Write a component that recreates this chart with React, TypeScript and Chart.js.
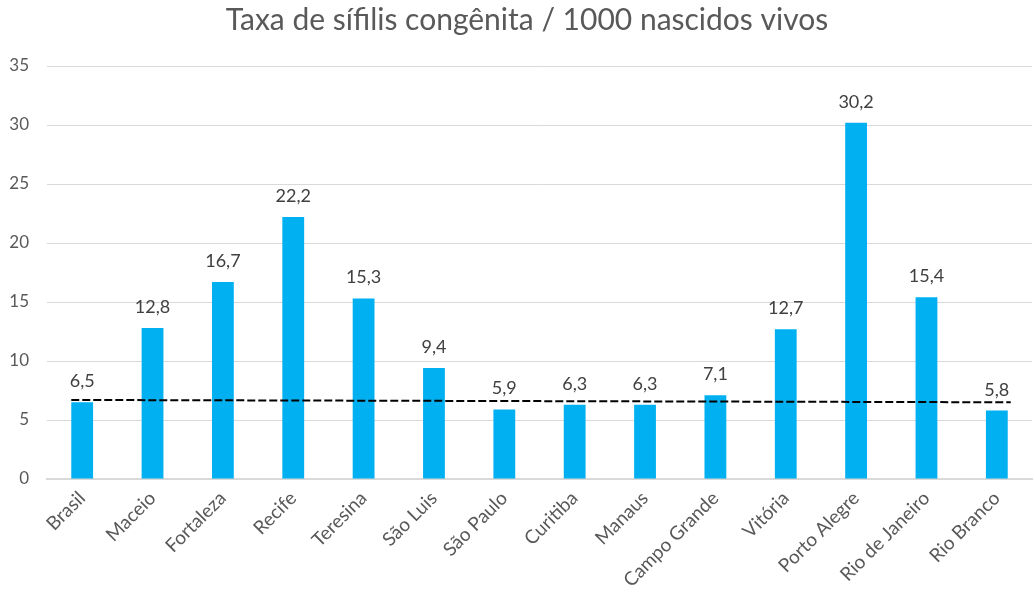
import React, { useEffect, useRef } from "react";
import { Chart, registerables } from "chart.js";

Chart.register(...registerables);

const categories = [
  "Brasil", "Maceio", "Fortaleza", "Recife", "Teresina", "São Luis", "São Paulo",
  "Curitiba", "Manaus", "Campo Grande", "Vitória", "Porto Alegre", "Rio de Janeiro", "Rio Branco",
];
const rates = [6.5, 12.8, 16.7, 22.2, 15.3, 9.4, 5.9, 6.3, 6.3, 7.1, 12.7, 30.2, 15.4, 5.8];
const trendStart = 6.7;
const trendEnd = 6.5;
const yTicks = [0, 5, 10, 15, 20, 25, 30, 35];
const titleText = "Taxa de sífilis congênita / 1000 nascidos vivos";

const FONT = "Lato, 'Noto Sans', sans-serif";

const overlayPlugin = {
  id: "overlay",
  afterDatasetsDraw(chart: any) {
    const ctx = chart.ctx;
    const meta = chart.getDatasetMeta(0);
    const y = chart.scales.y;
    ctx.save();
    ctx.font = `18px ${FONT}`;
    ctx.fillStyle = "#404040";
    ctx.textAlign = "center";
    ctx.textBaseline = "alphabetic";
    meta.data.forEach((bar: any, i: number) => {
      const label = rates[i].toFixed(1).replace(".", ",");
      ctx.fillText(label, bar.x, bar.y - 15);
    });
    const first = meta.data[0];
    const last = meta.data[meta.data.length - 1];
    ctx.strokeStyle = "#000000";
    ctx.lineWidth = 2;
    ctx.setLineDash([8, 3]);
    ctx.beginPath();
    ctx.moveTo(first.x - first.width / 2, y.getPixelForValue(trendStart));
    ctx.lineTo(last.x + last.width / 2 + 3, y.getPixelForValue(trendEnd));
    ctx.stroke();
    ctx.restore();
  },
  afterDraw(chart: any) {
    // title drawn slightly right of canvas center, as in the reference
    const ctx = chart.ctx;
    const box = chart.titleBlock;
    ctx.save();
    ctx.font = `30px ${FONT}`;
    ctx.fillStyle = "#595959";
    ctx.textAlign = "center";
    ctx.textBaseline = "middle";
    const cy = box.top + 2 + 18;
    ctx.fillText(titleText, chart.width / 2 + 10, cy);
    ctx.restore();
  },
};

export default function App() {
  const ref = useRef<HTMLCanvasElement>(null);
  useEffect(() => {
    document.body.style.margin = "0";
    const chart = new Chart(ref.current!, {
      type: "bar",
      data: {
        labels: categories,
        datasets: [
          {
            data: rates,
            backgroundColor: "#00B0F0",
            barPercentage: 0.31,
            categoryPercentage: 1,
          },
        ],
      },
      options: {
        animation: false,
        responsive: false,
        layout: { padding: { left: 0, right: 2, top: 0, bottom: 0 } },
        plugins: {
          legend: { display: false },
          tooltip: { enabled: false },
          title: {
            display: true,
            text: titleText,
            color: "rgba(0,0,0,0)",
            font: { family: FONT, size: 30, weight: "normal" },
            padding: { top: 2, bottom: 28 },
          },
        },
        scales: {
          x: {
            grid: { display: false, drawTicks: false },
            border: { color: "#D9D9D9", width: 2 },
            ticks: {
              color: "#595959",
              font: { family: FONT, size: 19 },
              maxRotation: 45,
              minRotation: 45,
              padding: 8,
            },
            afterFit(scale: any) {
              scale.height = 120;
            },
          },
          y: {
            min: 0,
            max: 35,
            afterBuildTicks(scale: any) {
              scale.ticks = yTicks.map((v) => ({ value: v }));
            },
            grid: { color: "#D9D9D9", drawTicks: false },
            border: { display: false },
            ticks: {
              color: "#595959",
              font: { family: FONT, size: 17 },
              padding: 18,
            },
            afterFit(scale: any) {
              scale.width = 47;
            },
          },
        },
      },
      plugins: [overlayPlugin],
    });
    return () => chart.destroy();
  }, []);
  return (
    <div style={{ position: "fixed", left: 0, top: 0, width: 1034, height: 599, background: "#fff" }}>
      <canvas ref={ref} width={1034} height={599} style={{ width: 1034, height: 599 }} />
    </div>
  );
}
